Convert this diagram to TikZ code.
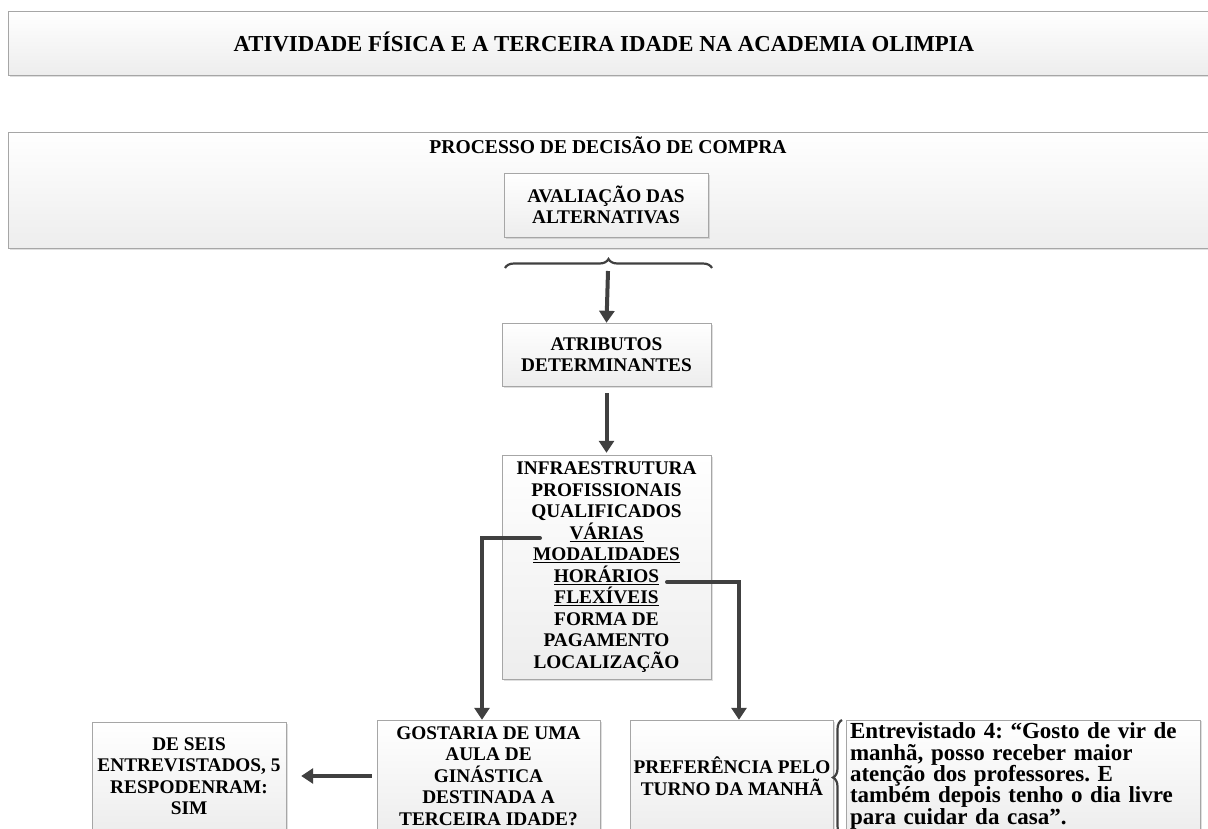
\documentclass[tikz,border=0pt]{standalone}
\usepackage{fontspec}
\setmainfont{Liberation Serif}
\usetikzlibrary{arrows.meta,decorations.pathreplacing,shadows}
\frenchspacing

\tikzset{
  box/.style={draw=gray!70, top color=white, bottom color=gray!14,
    drop shadow={opacity=.25,shadow xshift=1.5pt,shadow yshift=-1.5pt},
    font=\bfseries\fontsize{19.3}{21.5}\selectfont, align=center, inner sep=3pt},
  heading/.style={font=\bfseries\fontsize{19.6}{22}\selectfont, inner sep=0pt},
  link/.style={line width=4pt, draw=black!75, -{Triangle[length=12pt,width=15pt]}},
  curly/.style={decorate, decoration={brace,amplitude=9pt}, line width=2.2pt, draw=black!75}
}

\begin{document}
\begin{tikzpicture}[x=1pt,y=-1pt]
\useasboundingbox (0,0) rectangle (1208,828);

\node[box, minimum width=1212pt, minimum height=64pt] (titlebox) at (614,43) {};
\node[heading, font=\bfseries\fontsize{22.8}{24}\selectfont] (title) at (604,42) {ATIVIDADE FÍSICA E A TERCEIRA IDADE NA ACADEMIA OLIMPIA};

\node[box, minimum width=1212pt, minimum height=116pt] (procbox) at (614,190) {};
\node[heading] (proc) at (608,145) {PROCESSO DE DECISÃO DE COMPRA};
\node[box, minimum width=204pt, minimum height=64pt] (aval) at (606,205) {AVALIAÇÃO DAS\\ALTERNATIVAS};

\coordinate (bl) at (505,268);
\coordinate (br) at (712,268);
\coordinate (btip) at (608,271);
\draw[curly] (bl) -- (br);

\node[box, minimum width=209pt, minimum height=63pt] (attr) at (606.5,354.5) {ATRIBUTOS\\DETERMINANTES};
\node[box, minimum width=209pt, minimum height=224pt] (infra) at (606.5,567) {INFRAESTRUTURA\\PROFISSIONAIS\\QUALIFICADOS\\\underline{VÁRIAS}\\\underline{MODALIDADES}\\\underline{HORÁRIOS}\\\underline{FLEXÍVEIS}\\FORMA DE\\PAGAMENTO\\LOCALIZAÇÃO};

\node[box, minimum width=223pt, minimum height=112pt] (aula) at (488.5,776) {GOSTARIA DE UMA\\AULA DE\\GINÁSTICA\\DESTINADA A\\TERCEIRA IDADE?};
\node[box, minimum width=194pt, minimum height=108pt] (sim) at (189,776) {DE SEIS\\ENTREVISTADOS, 5\\RESPODENRAM:\\SIM};
\node[box, minimum width=192pt, minimum height=112pt] (manha) at (732,776) {PREFERÊNCIA PELO\\TURNO DA MANHÃ};
\node[box, minimum width=354pt, minimum height=112pt, text width=346pt, align=left,
  font=\bfseries\fontsize{23}{21.4}\selectfont] (fala) at (1023,776) {Entrevistado 4: “Gosto de vir de\\manhã, posso receber maior\\atenção dos professores. E\\também depois tenho o dia livre\\para cuidar da casa”.};

\coordinate (sl) at (842,835);
\coordinate (sr) at (842,720);
\draw[curly] (sl) -- (sr);

\coordinate (vstart) at (540,538);
\coordinate (hstart) at (667,582);

\draw[link] (btip) -- (attr.north);
\draw[link, shorten <=7pt, shorten >=2pt] (attr.south) -- (infra.north);
\draw[link, line cap=round] (vstart) -| ([xshift=-6.5pt]aula.north);
\draw[link, line cap=round] (hstart) -| ([xshift=7pt]manha.north);
\draw[link, shorten <=5pt, shorten >=15pt] (aula.west) -- (sim.east);
\end{tikzpicture}
\end{document}
